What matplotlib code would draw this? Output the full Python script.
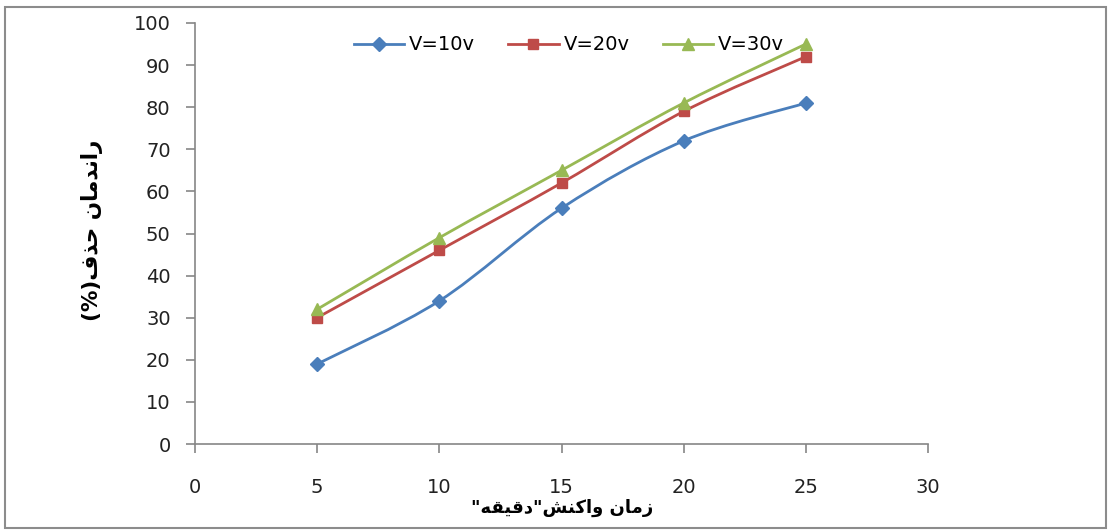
import matplotlib
matplotlib.use("Agg")
import matplotlib.pyplot as plt
from matplotlib.path import Path
from matplotlib.patches import PathPatch, Rectangle
from matplotlib.lines import Line2D

# ---- data ----
times = [5, 10, 15, 20, 25]
v10 = [19, 34, 56, 72, 81]
v20 = [30, 46, 62, 79, 92]
v30 = [32, 49, 65, 81, 95]
series_names = ["V=10v", "V=20v", "V=30v"]
x_ticks = [0, 5, 10, 15, 20, 25, 30]
y_ticks = [0, 10, 20, 30, 40, 50, 60, 70, 80, 90, 100]

# Persian labels (presentation forms, visual order)
xlabel = ('"' + '\uFEEA\uFED8\uFEF4\uFED7\uFEA9' + '"' +
          '\uFEB6\uFEE8\uFB90\uFE8D\uFEED' + ' ' + '\uFEE5\uFE8E\uFEE3\uFEAF')
ylabel = ('(%)' + '\uFED1\uFEAC\uFEA3' + ' ' +
          '\uFEE5\uFE8E\uFEE3\uFEAA\uFEE7\uFE8D\uFEAD')

colors = ["#4A7EBB", "#BE4B48", "#98B954"]
markers = ["D", "s", "^"]
msizes = [7.5, 7.5, 9]

W, H = 1108, 530
fig = plt.figure(figsize=(W / 100, H / 100), dpi=100)
ax = fig.add_axes([195 / W, 1 - 444 / H, (928 - 195) / W, (444 - 23) / H])

def smooth_path(xs, ys):
    verts = [(xs[0], ys[0])]
    codes = [Path.MOVETO]
    n = len(xs)
    for i in range(n - 1):
        x0, y0 = (xs[i - 1], ys[i - 1]) if i > 0 else (xs[i], ys[i])
        x1, y1 = xs[i], ys[i]
        x2, y2 = xs[i + 1], ys[i + 1]
        x3, y3 = (xs[i + 2], ys[i + 2]) if i + 2 < n else (xs[i + 1], ys[i + 1])
        c1 = (x1 + (x2 - x0) / 6, y1 + (y2 - y0) / 6)
        c2 = (x2 - (x3 - x1) / 6, y2 - (y3 - y1) / 6)
        verts += [c1, c2, (x2, y2)]
        codes += [Path.CURVE4] * 3
    return Path(verts, codes)

handles = []
for ys, c, m, ms, name in zip([v10, v20, v30], colors, markers, msizes, series_names):
    ax.add_patch(PathPatch(smooth_path(times, ys), facecolor="none",
                           edgecolor=c, lw=2, zorder=2))
    ax.plot(times, ys, linestyle="none", marker=m, markersize=ms,
            color=c, markeredgecolor=c, zorder=3)
    handles.append(Line2D([], [], color=c, lw=2, marker=m, markersize=ms,
                          markeredgecolor=c, label=name))

ax.set_xlim(0, 30)
ax.set_ylim(0, 100)
ax.set_xticks(x_ticks)
ax.set_yticks(y_ticks)
for s in ["top", "right"]:
    ax.spines[s].set_visible(False)
for s in ["left", "bottom"]:
    ax.spines[s].set_color("#868686")
    ax.spines[s].set_linewidth(1.2)
ax.tick_params(axis="both", colors="#868686", labelcolor="#222222",
               labelsize=14, length=6.5, width=1.2, direction="out")
ax.tick_params(axis="x", pad=18)
ax.tick_params(axis="y", pad=11)

leg = ax.legend(handles=handles, loc="center", bbox_to_anchor=(0.51, 0.948),
                ncol=3, frameon=False, fontsize=14, handlelength=2.6,
                columnspacing=1.7, handletextpad=0.25)

fig.text(562 / W, 1 - 508 / H, xlabel, ha="center", va="center",
         fontsize=13, fontweight="bold", family="DejaVu Sans")
fig.text(92 / W, 1 - 230 / H, ylabel, ha="center", va="center", rotation=90,
         fontsize=15.5, fontweight="bold", family="DejaVu Sans")

fig.patches.append(Rectangle((5 / W, 2 / H), (1106 - 5) / W, (523 - 2) / H,
                             transform=fig.transFigure, fill=False,
                             edgecolor="#8c8c8c", lw=1.5))

fig.savefig("out.png", dpi=100)
